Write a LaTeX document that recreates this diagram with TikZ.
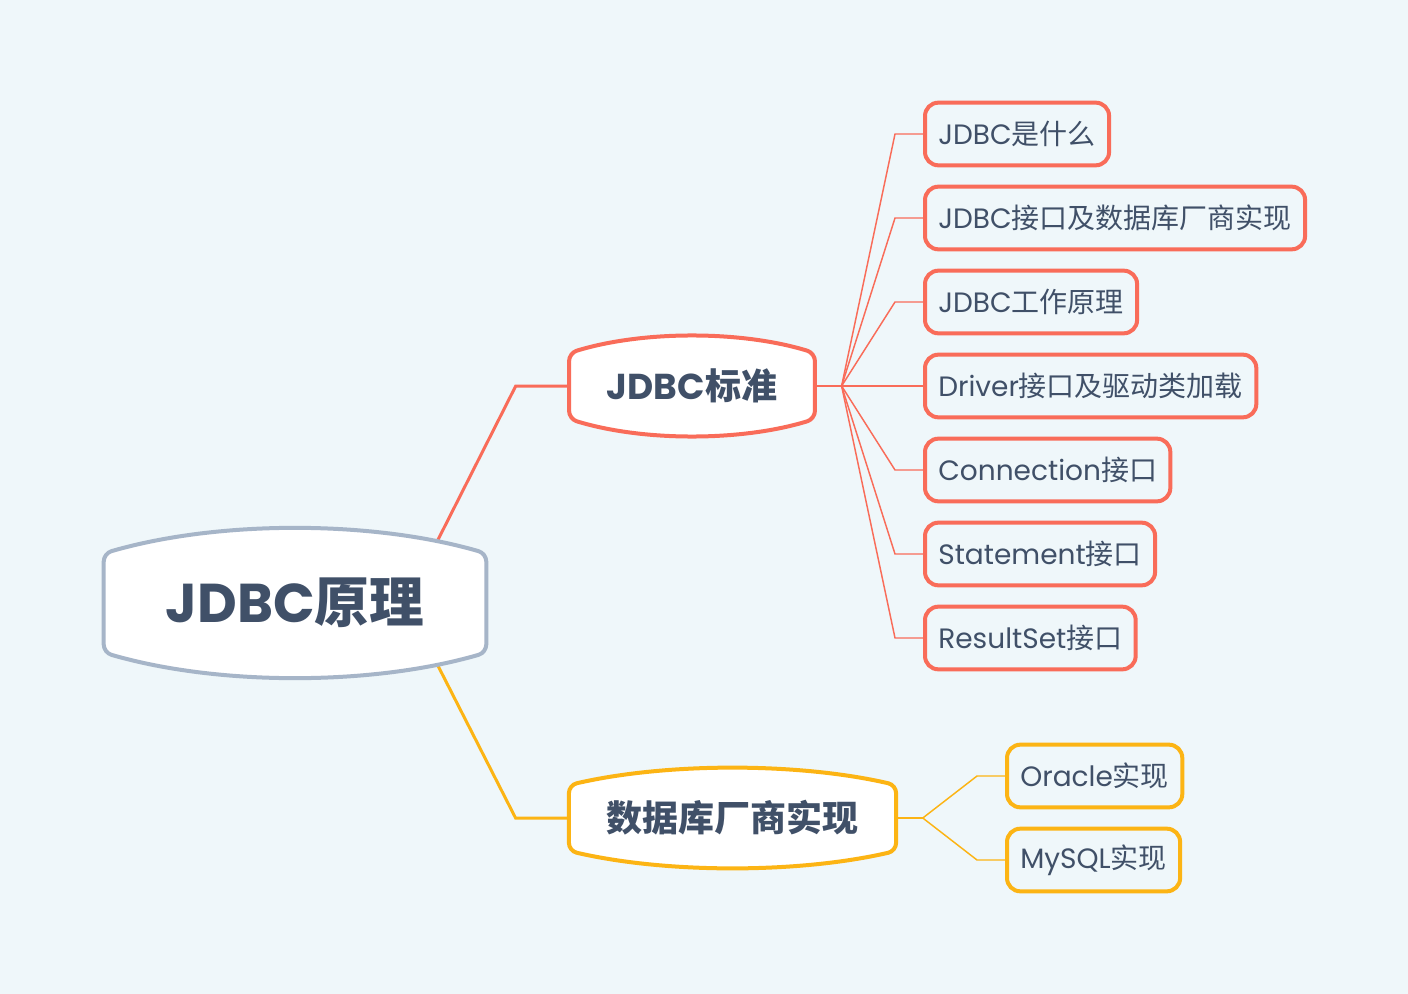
\documentclass[tikz,border=0pt]{standalone}
\usepackage{fontspec}
\setmainfont{Poppins}
\newfontfamily\cjk{Noto Sans CJK SC}
\usetikzlibrary{calc,backgrounds}

\definecolor{paper}{RGB}{239,247,250}
\definecolor{ink}{RGB}{64,80,104}
\definecolor{tomato}{RGB}{249,108,89}
\definecolor{amber}{RGB}{252,180,20}
\definecolor{slate}{RGB}{166,181,200}

% white box with bulging top and bottom edges
\newcommand\bulgebox[3]{%
  \draw[#2, line width=3pt, fill=white, rounded corners=6pt]
    (#1.west) -- (#1.north west)
    .. controls ($(#1.north west)!0.3!(#1.north east)+(0pt,#3)$)
       and ($(#1.north west)!0.7!(#1.north east)+(0pt,#3)$) .. (#1.north east)
    -- (#1.south east)
    .. controls ($(#1.south west)!0.7!(#1.south east)-(0pt,#3)$)
       and ($(#1.south west)!0.3!(#1.south east)-(0pt,#3)$) .. (#1.south west)
    -- cycle;}

\begin{document}
\begin{tikzpicture}[x=0.75pt, y=-0.75pt,
    rootbox/.style={text=ink, inner sep=0pt, minimum width=286.5pt,
                    minimum height=74pt, font=\fontsize{41}{48}\selectfont\bfseries},
    topicbox/.style={text=ink, inner sep=0pt, minimum height=49pt,
                     font=\fontsize{27}{32}\selectfont\bfseries},
    leaf/.style={draw=#1, line width=3pt, rounded corners=10pt, anchor=west,
                 text=ink, minimum height=47pt, inner xsep=10pt, inner ysep=0pt,
                 font=\fontsize{21}{25}\selectfont},
    trunk/.style={draw=#1, line width=2.25pt},
    twig/.style={draw=#1, line width=1.1pt}]

    \draw (295, 603) node [rootbox] (root) {JDBC{\cjk 原理}};
    \coordinate (rootout) at (406, 603);

    \draw (692, 386) node [topicbox, minimum width=184pt] (std) {JDBC{\cjk 标准}};
    \draw (732.5, 818) node [topicbox, minimum width=245pt] (impl) {{\cjk 数据库厂商实现}};

    \coordinate (stdhub) at ([xshift=20pt]std.east);
    \coordinate (implhub) at ([xshift=20pt]impl.east);

    \draw (923, 134) node [leaf=tomato] (what) {JDBC{\cjk 是什么}};
    \draw (923, 218) node [leaf=tomato] (api) {JDBC{\cjk 接口及数据库厂商实现}};
    \draw (923, 302) node [leaf=tomato] (work) {JDBC{\cjk 工作原理}};
    \draw (923, 386) node [leaf=tomato] (driver) {Driver{\cjk 接口及驱动类加载}};
    \draw (923, 470) node [leaf=tomato] (conn) {Connection{\cjk 接口}};
    \draw (923, 554) node [leaf=tomato] (stmt) {Statement{\cjk 接口}};
    \draw (923, 638) node [leaf=tomato] (rs) {ResultSet{\cjk 接口}};

    \draw (1005, 776) node [leaf=amber] (oracle) {Oracle{\cjk 实现}};
    \draw (1005, 860) node [leaf=amber] (mysql) {MySQL{\cjk 实现}};

    \begin{pgfonlayer}{background}
        \fill [paper] (0, 0) rectangle (1408, 994);

        \draw [trunk=tomato] (rootout) -- ([xshift=-40pt]std.west) -- (std.west);
        \draw [trunk=amber] (rootout) -- ([xshift=-40pt]impl.west) -- (impl.west);

        \draw [twig=tomato] (std.east) -- (stdhub);
        \draw [twig=tomato] (stdhub) -- ([xshift=-21pt]what.west) -- (what.west);
        \draw [twig=tomato] (stdhub) -- ([xshift=-21pt]api.west) -- (api.west);
        \draw [twig=tomato] (stdhub) -- ([xshift=-21pt]work.west) -- (work.west);
        \draw [twig=tomato] (stdhub) -- (driver.west);
        \draw [twig=tomato] (stdhub) -- ([xshift=-21pt]conn.west) -- (conn.west);
        \draw [twig=tomato] (stdhub) -- ([xshift=-21pt]stmt.west) -- (stmt.west);
        \draw [twig=tomato] (stdhub) -- ([xshift=-21pt]rs.west) -- (rs.west);

        \draw [twig=amber] (impl.east) -- (implhub);
        \draw [twig=amber] (implhub) -- ([xshift=-21pt]oracle.west) -- (oracle.west);
        \draw [twig=amber] (implhub) -- ([xshift=-21pt]mysql.west) -- (mysql.west);

        \bulgebox{root}{slate}{25pt}
        \bulgebox{std}{tomato}{17pt}
        \bulgebox{impl}{amber}{17pt}
    \end{pgfonlayer}
\end{tikzpicture}
\end{document}
